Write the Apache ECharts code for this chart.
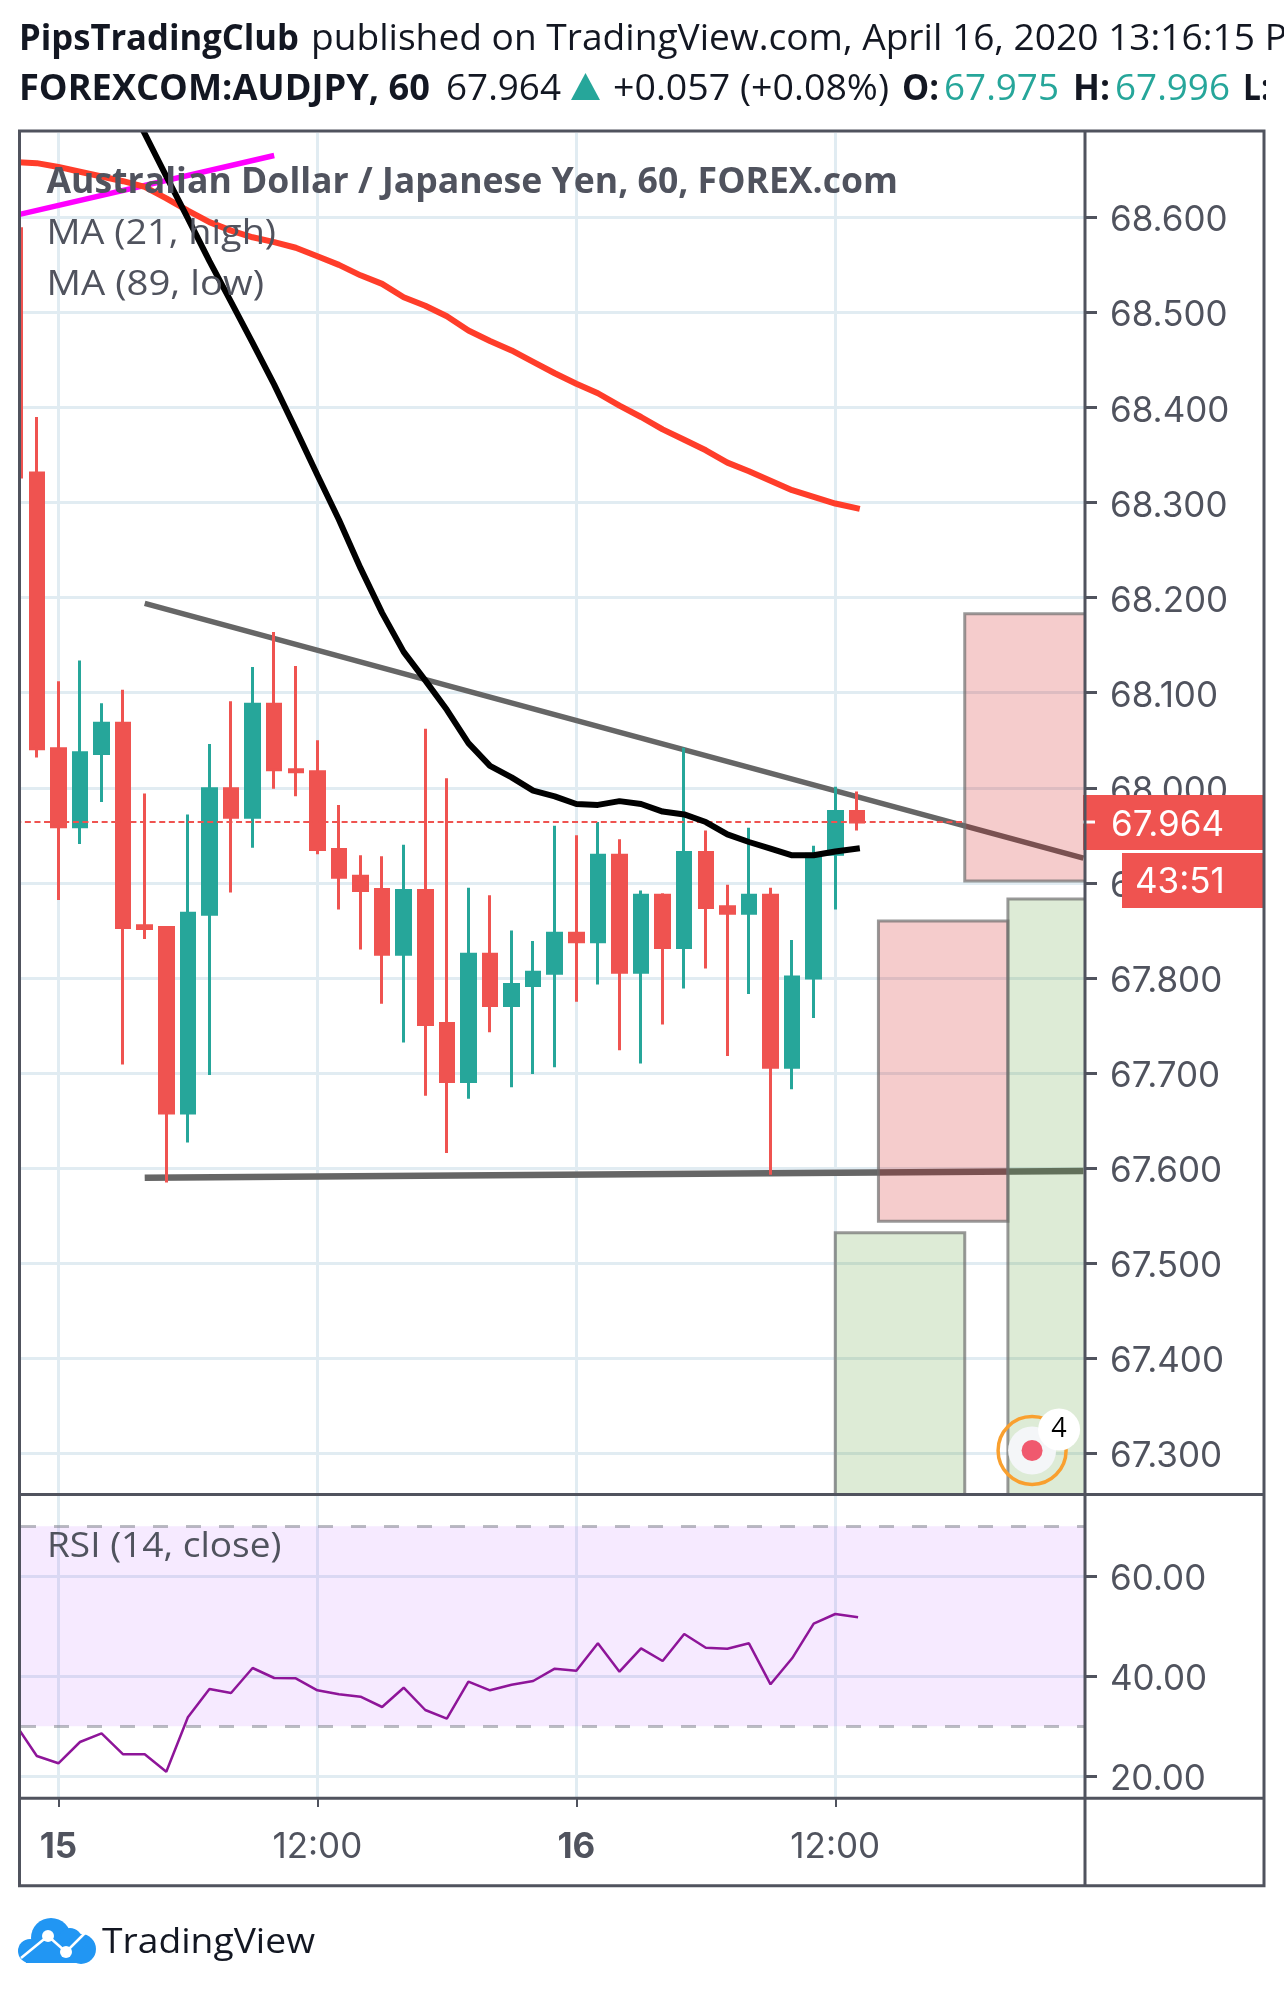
<!DOCTYPE html>
<html><head><meta charset="utf-8">
<style>html,body{margin:0;padding:0;background:#fff}#c{width:1284px;height:1995px}</style>
<script src="https://cdn.jsdelivr.net/npm/echarts@6/dist/echarts.min.js"></script>
</head><body><div id="c"></div>
<script>
// hours counted from 15 April 00:00
const barHours=[-2,-1,0,1,2,3,4,5,6,7,8,9,10,11,12,13,14,15,16,17,18,19,20,21,22,23,24,25,26,27,28,29,30,31,32,33,34,35,36,37];
const opens=[68.588,68.331,68.041,67.959,68.036,68.068,67.855,67.853,67.658,67.867,67.999,67.969,68.088,68.019,68.017,67.935,67.907,67.893,67.825,67.892,67.752,67.691,67.825,67.771,67.792,67.805,67.847,67.838,67.929,67.806,67.887,67.832,67.932,67.875,67.868,67.887,67.706,67.800,67.930,67.975];
const closes=[68.327,68.041,67.959,68.037,68.068,67.853,67.852,67.658,67.868,67.999,67.969,68.088,68.019,68.017,67.935,67.906,67.892,67.825,67.892,67.751,67.691,67.825,67.771,67.793,67.806,67.847,67.838,67.929,67.806,67.887,67.832,67.932,67.874,67.868,67.887,67.706,67.801,67.930,67.975,67.964];
const lows=[68.327,68.032,67.882,67.941,67.985,67.709,67.841,67.585,67.627,67.698,67.890,67.937,67.999,67.991,67.930,67.872,67.830,67.773,67.732,67.676,67.616,67.673,67.743,67.685,67.699,67.706,67.775,67.793,67.724,67.710,67.751,67.789,67.810,67.718,67.783,67.593,67.683,67.758,67.872,67.955];
const highs=[68.588,68.390,68.112,68.134,68.089,68.103,67.994,67.854,67.972,68.046,68.091,68.127,68.164,68.128,68.050,67.982,67.929,67.928,67.940,68.062,68.010,67.895,67.887,67.850,67.839,67.960,67.950,67.964,67.946,67.892,67.889,68.042,67.955,67.898,67.958,67.895,67.840,67.939,68.001,67.996];
const ma89Low=[68.658,68.657,68.653,68.648,68.643,68.638,68.632,68.620,68.607,68.595,68.586,68.579,68.574,68.568,68.559,68.550,68.539,68.530,68.516,68.507,68.496,68.481,68.470,68.460,68.448,68.436,68.425,68.415,68.402,68.390,68.377,68.366,68.355,68.342,68.333,68.323,68.313,68.306,68.299,68.294];
const ma21Hours=[3,4,5,6,7,8,9,10,11,12,13,14,15,16,17,18,19,20,21,22,23,24,25,26,27,28,29,30,31,32,33,34,35,36,37];
const ma21High=[68.732,68.688,68.643,68.599,68.554,68.511,68.468,68.424,68.377,68.329,68.282,68.231,68.184,68.143,68.113,68.082,68.047,68.023,68.011,67.997,67.991,67.983,67.982,67.986,67.983,67.975,67.972,67.964,67.951,67.943,67.936,67.929,67.929,67.933,67.936];
const rsi14=[30.46,24.06,22.6,26.86,28.6,24.4,24.4,20.92,31.8,37.46,36.66,41.66,39.66,39.6,37.2,36.4,35.92,33.86,37.72,33.26,31.52,38.92,37.2,38.32,39.06,41.52,41.12,46.6,40.92,45.6,43.06,48.46,45.72,45.52,46.6,38.4,43.6,50.52,52.46,51.86];
const magentaTrend=[[-2,68.602],[10,68.665]];
const upperTrend=[[4,68.194],[47.5,67.926]];
const lowerTrend=[[4,67.590],[47.5,67.597]];
const lastPrice=67.964, countdown='43:51';
const lastPriceSpan=[-2,42];
// [left hour, right hour, top price, bottom price]
const pinkBoxes=[[42,48,68.183,67.902],[38,44,67.860,67.544]];
const greenBoxes=[[44,48,67.883,67.2],[36,42,67.532,67.2]];
const ideaMarker=[[45.12,67.303,'4']];
const priceTicks=[67.3,67.4,67.5,67.6,67.7,67.8,67.9,68.0,68.1,68.2,68.3,68.4,68.5,68.6];
const rsiTicks=[20,40,60];
const rsiBands=[70,30];
const hourTicks=[0,12,24,36];
const hourLabels=['{b|15}','12:00','{b|16}','12:00'];

const INK='#50535E',DARK='#131722',GRID='#E1ECF2',UP='#26A69A',DOWN='#EF5350';
const AXISFONT='Inter',AXISSIZE=35;
const HEAD="'Open Sans'";
const ctx=document.createElement('canvas').getContext('2d');
function fit(str,size,weight,x,cy,target,color,z,fitStr){
  ctx.font=`${weight} ${size}px ${HEAD}`;
  const w=ctx.measureText(fitStr||str).width;
  return {type:'text',x:x,y:cy,scaleX:target/w,z:z||40,silent:true,
    style:{text:str,fontFamily:"Open Sans",fontSize:size,fontWeight:weight,fill:color,verticalAlign:'middle',align:'left'}};
}
function segLine(x1,y1,x2,y2){return {type:'line',z:35,silent:true,shape:{x1,y1,x2,y2},style:{stroke:INK,lineWidth:3}};}
const candleData=barHours.map((h,i)=>[h,opens[i],closes[i],lows[i],highs[i]]);
const xMin=-1.733,xMax=47.526;

function boxRender(fill){return function(params,api){
  const a=api.coord([api.value(0),api.value(2)]),b=api.coord([api.value(1),api.value(3)]);
  return {type:'rect',shape:{x:a[0],y:a[1],width:b[0]-a[0],height:b[1]-a[1]},
    style:{fill:fill,stroke:'rgba(110,110,110,0.7)',lineWidth:3}};
};}
const noLine={show:false,onZero:false};
const gridLine={show:true,lineStyle:{color:GRID,width:3}};

const option={
  animation:false,backgroundColor:'#fff',
  grid:[{left:21,right:200,top:133,height:1360},{left:21,right:200,top:1496,height:301}],
  xAxis:[
   {type:'value',gridIndex:0,min:xMin,max:xMax,axisLine:noLine,axisTick:{show:false,customValues:hourTicks},axisLabel:{show:false,customValues:hourTicks},splitLine:gridLine},
   {type:'value',gridIndex:1,min:xMin,max:xMax,axisLine:noLine,
    axisTick:{show:true,customValues:hourTicks,length:10,lineStyle:{color:INK,width:2}},
    axisLabel:{show:true,customValues:hourTicks,margin:33,fontFamily:AXISFONT,fontSize:AXISSIZE,color:INK,
      formatter:v=>hourLabels[hourTicks.indexOf(v)],
      rich:{b:{fontFamily:AXISFONT,fontSize:AXISSIZE,fontWeight:'bold',color:INK}}},
    splitLine:gridLine}
  ],
  yAxis:[
   {type:'value',gridIndex:0,position:'right',min:67.2583,max:68.6887,axisLine:noLine,
    axisTick:{show:true,customValues:priceTicks,length:13,lineStyle:{color:INK,width:3}},
    axisLabel:{show:true,customValues:priceTicks,margin:26,verticalAlign:'top',lineHeight:7,fontFamily:AXISFONT,fontSize:AXISSIZE,color:INK,formatter:v=>v.toFixed(3)},
    splitLine:gridLine},
   {type:'value',gridIndex:1,position:'right',min:15.86,max:76.06,axisLine:noLine,
    axisTick:{show:true,customValues:rsiTicks,length:13,lineStyle:{color:INK,width:3}},
    axisLabel:{show:true,customValues:rsiTicks,margin:26,verticalAlign:'top',lineHeight:7,fontFamily:AXISFONT,fontSize:AXISSIZE,color:INK,formatter:v=>v.toFixed(2)},
    splitLine:gridLine}
  ],
  series:[
   {type:'line',name:'Trend magenta',z:2,data:magentaTrend,showSymbol:false,silent:true,lineStyle:{color:'#FF00FF',width:5.5}},
   {type:'line',name:'Trend upper',z:2,data:upperTrend,showSymbol:false,silent:true,lineStyle:{color:'#666666',width:5.5}},
   {type:'line',name:'Trend lower',z:2,data:lowerTrend,showSymbol:false,silent:true,lineStyle:{color:'#666666',width:6.5}},
   {type:'candlestick',name:'AUDJPY',z:3,layout:'horizontal',data:candleData,barWidth:14,clip:true,silent:true,
    itemStyle:{color:UP,color0:DOWN,borderColor:UP,borderColor0:DOWN,borderColorDoji:DOWN,borderWidth:3}},
   {type:'line',name:'Last price',z:4,data:lastPriceSpan.map(h=>[h,lastPrice]),showSymbol:false,silent:true,
    lineStyle:{color:DOWN,width:2,type:[6,3.6]}},
   {type:'line',name:'MA 89 low',z:5,data:barHours.map((h,i)=>[h,ma89Low[i]]),showSymbol:false,silent:true,lineStyle:{color:'#FF3D2A',width:6,cap:'square'}},
   {type:'line',name:'MA 21 high',z:6,data:ma21Hours.map((h,i)=>[h,ma21High[i]]),showSymbol:false,silent:true,lineStyle:{color:'#000000',width:6,cap:'square'}},
   {type:'custom',name:'Sell zones',z:7,clip:true,silent:true,data:pinkBoxes,encode:{x:[0,1],y:[2,3]},renderItem:boxRender('rgba(204,0,0,0.2)')},
   {type:'custom',name:'Buy zones',z:8,clip:true,silent:true,data:greenBoxes,encode:{x:[0,1],y:[2,3]},renderItem:boxRender('rgba(85,155,50,0.2)')},
   {type:'custom',name:'Idea marker',z:12,clip:false,silent:true,data:ideaMarker,encode:{x:0,y:1},
    renderItem(params,api){
      const p=api.coord([api.value(0),api.value(1)]);
      return {type:'group',children:[
        {type:'circle',shape:{cx:p[0],cy:p[1],r:34},style:{fill:'transparent',stroke:'#F9A02F',lineWidth:3.5}},
        {type:'circle',shape:{cx:p[0],cy:p[1],r:24},style:{fill:'#F4F6F8'}},
        {type:'circle',shape:{cx:p[0],cy:p[1],r:10.5},style:{fill:'#F0596E'}},
        {type:'circle',shape:{cx:p[0]+27,cy:p[1]-21,r:21},style:{fill:'#FFFFFF'}},
        {type:'text',x:p[0]+27,y:p[1]-21,style:{text:String(api.value(2)),fontFamily:'Open Sans',fontSize:27,fill:'#000',align:'center',verticalAlign:'middle'}}
      ]};
    }},
   {type:'custom',name:'Last price pill',z:30,clip:false,silent:true,data:[[xMax,lastPrice]],encode:{x:0,y:1},
    renderItem(params,api){
      const p=api.coord([api.value(0),api.value(1)]),x0=p[0]-1,y=p[1];
      const t={fontFamily:AXISFONT,fontSize:AXISSIZE,fill:'#fff',align:'left',verticalAlign:'middle'};
      return {type:'group',children:[
        {type:'rect',shape:{x:x0,y:y-27,width:180,height:55},style:{fill:DOWN}},
        {type:'rect',shape:{x:x0,y:y-1.5,width:12,height:3},style:{fill:'#fff'}},
        {type:'text',x:x0+28,y:y+3,style:Object.assign({text:lastPrice.toFixed(3)},t)},
        {type:'rect',shape:{x:x0+39,y:y+31,width:141,height:55},style:{fill:DOWN}},
        {type:'text',x:x0+52,y:y+60,style:Object.assign({text:countdown},t)}
      ]};
    }},
   {type:'line',name:'RSI 14',xAxisIndex:1,yAxisIndex:1,z:6,data:barHours.map((h,i)=>[h,rsi14[i]]),showSymbol:false,silent:true,
    lineStyle:{color:'#8E1599',width:2.5,cap:'square'},
    markArea:{silent:true,z:1,itemStyle:{color:'rgba(153,21,255,0.09)'},data:[[{yAxis:rsiBands[0]},{yAxis:rsiBands[1]}]]},
    markLine:{silent:true,symbol:'none',label:{show:false},lineStyle:{color:'rgba(120,123,134,0.5)',width:3,type:[15,18]},data:rsiBands.map(v=>({yAxis:v}))}}
  ],
  graphic:{elements:[
    {type:'rect',z:20,silent:true,shape:{x:0,y:131,width:19,height:1363},style:{fill:'#fff'}},
    fit('PipsTradingClub',36,'bold',19,40,280,DARK),
    fit('published on TradingView.com, April 16, 2020 13:16:15 PDT',36,'normal',311,40,944,DARK,40,'published on TradingView.com, April 16, 2020 13:16:15'),
    fit('FOREXCOM:AUDJPY, 60',36,'bold',19,90,411,DARK),
    fit('67.964',36,'normal',446,90,115,DARK),
    {type:'polygon',z:40,silent:true,shape:{points:[[571,100],[600,100],[585.5,73]]},style:{fill:UP}},
    fit('+0.057 (+0.08%)',36,'normal',613,90,276,DARK),
    fit('O:',36,'bold',902,90,37,DARK),
    fit('67.975',36,'normal',944,90,115,UP),
    fit('H:',36,'bold',1073,90,37,DARK),
    fit('67.996',36,'normal',1115,90,115,UP),
    fit('L:',36,'bold',1243,90,27,DARK),
    {type:'rect',z:41,silent:true,shape:{x:1266,y:60,width:18,height:60},style:{fill:'#fff'}},
    fit('Australian Dollar / Japanese Yen, 60, FOREX.com',35,'bold',46.5,183.5,851.5,INK),
    fit('MA (21, high)',35,'normal',46.5,234.5,229.5,INK),
    fit('MA (89, low)',35,'normal',46.5,285,217.5,INK),
    fit('RSI (14, close)',35,'normal',47,1547,234.5,INK),
    {type:'rect',z:35,silent:true,shape:{x:19.5,y:131,width:1244.5,height:1754.7},style:{fill:'transparent',stroke:INK,lineWidth:3}},
    segLine(19.5,1494.5,1264,1494.5),segLine(19.5,1798.3,1264,1798.3),segLine(1085,131,1085,1885.7),
    // logo
    {type:'group',z:40,silent:true,children:[
      {type:'circle',z:40,shape:{cx:51,cy:1938,r:20},style:{fill:'#2196F3'}},
      {type:'circle',z:40,shape:{cx:30,cy:1951,r:12},style:{fill:'#2196F3'}},
      {type:'circle',z:40,shape:{cx:70,cy:1940,r:12},style:{fill:'#2196F3'}},
      {type:'circle',z:40,shape:{cx:81,cy:1949,r:15},style:{fill:'#2196F3'}},
      {type:'rect',z:40,shape:{x:26,y:1945,width:57,height:18},style:{fill:'#2196F3'}},
      {type:'polyline',z:41,shape:{points:[[21,1958],[48,1936],[66,1952],[85,1933]]},style:{stroke:'#fff',lineWidth:2.5,fill:'none'}},
      {type:'circle',z:41,shape:{cx:48,cy:1936,r:6},style:{fill:'#fff'}},
      {type:'circle',z:41,shape:{cx:66,cy:1952,r:6},style:{fill:'#fff'}}
    ]},
    fit('TradingView',35,'normal',102,1943,213,DARK)
  ]}
};
const chart=echarts.init(document.getElementById('c'),null,{renderer:'canvas',width:1284,height:1995});
chart.setOption(option);
</script></body></html>
